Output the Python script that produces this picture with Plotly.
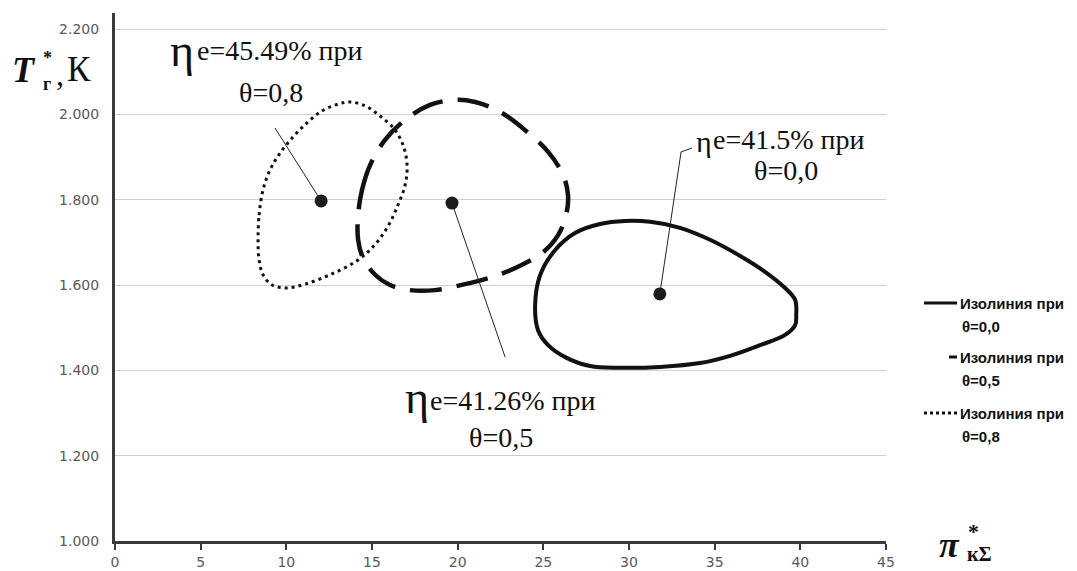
import plotly.graph_objects as go

# ---------------- data ----------------
# isoline theta = 0.0 (solid)
iso00_x = [24.52, 24.81, 25.69, 26.85, 28.31, 29.77, 31.23, 32.98, 34.73, 36.49, 37.94, 39.11, 39.70,
           39.76, 39.70, 39.11, 37.65, 35.90, 34.15, 31.82, 29.48, 27.73, 26.27, 25.28, 24.69, 24.52]
iso00_y = [1553, 1623, 1682, 1722, 1743, 1750, 1748, 1734, 1706, 1668, 1631, 1593, 1565,
           1530, 1506, 1483, 1459, 1434, 1417, 1408, 1406, 1410, 1431, 1459, 1494, 1553]
# isoline theta = 0.5 (dashed)
iso05_x = [14.19, 14.42, 14.89, 15.76, 16.93, 18.39, 19.85, 21.02, 22.47, 23.93, 25.28, 26.15, 26.44,
           26.33, 25.86, 24.99, 23.64, 22.18, 20.43, 18.68, 17.22, 16.05, 15.18, 14.48, 14.19, 14.19]
iso05_y = [1764, 1823, 1881, 1940, 1987, 2022, 2034, 2029, 2006, 1963, 1912, 1858, 1811,
           1764, 1717, 1677, 1645, 1621, 1602, 1588, 1588, 1600, 1624, 1663, 1706, 1764]
# isoline theta = 0.8 (dotted)
iso08_x = [8.35, 8.41, 8.64, 9.05, 9.63, 10.39, 11.21, 12.08, 13.02, 13.72, 14.59, 15.47, 16.35, 16.87,
           17.05, 16.93, 16.52, 15.88, 15.00, 14.01, 12.55, 11.09, 10.04, 9.17, 8.64, 8.41, 8.35]
iso08_y = [1706, 1764, 1823, 1870, 1909, 1947, 1980, 2008, 2024, 2029, 2020, 1996, 1963, 1921,
           1877, 1834, 1788, 1734, 1687, 1654, 1624, 1602, 1593, 1600, 1624, 1659, 1706]
# optimum points (theta = 0.0, 0.5, 0.8)
opt_x = [31.8, 19.67, 12.03]
opt_y = [1579, 1792, 1797]

x_ticks = [0, 5, 10, 15, 20, 25, 30, 35, 40, 45]
y_ticks = [1000, 1200, 1400, 1600, 1800, 2000, 2200]
y_ticktext = ["1.000", "1.200", "1.400", "1.600", "1.800", "2.000", "2.200"]
legend_line1 = ["Изолиния при", "Изолиния при", "Изолиния при"]
legend_line2 = ["θ=0,0", "θ=0,5", "θ=0,8"]

# ---------------- layout geometry ----------------
W, H = 1077, 571
L, R, T, B = 115, 191, 13, 30
PW, PH = W - L - R, H - T - B


def px(x):
    return (x - L) / PW


def py(y):
    return (H - B - y) / PH


fig = go.Figure()

fig.add_trace(go.Scatter(x=iso00_x, y=iso00_y, mode="lines", line=dict(color="#111111", width=4, shape="spline"),
                         showlegend=False, hoverinfo="skip"))
fig.add_trace(go.Scatter(x=iso05_x, y=iso05_y, mode="lines",
                         line=dict(color="#111111", width=4.5, shape="spline", dash="32px,15px"),
                         showlegend=False, hoverinfo="skip"))
fig.add_trace(go.Scatter(x=iso08_x, y=iso08_y, mode="lines",
                         line=dict(color="#111111", width=3, shape="spline", dash="3px,4px"),
                         showlegend=False, hoverinfo="skip"))

# leader lines from optimum points to labels
lead_end_x = [33.04, 22.77, 9.34]
lead_end_y = [1912, 1431, 1968]
for i in range(3):
    fig.add_shape(type="line", xref="x", yref="y", x0=opt_x[i], y0=opt_y[i], x1=lead_end_x[i], y1=lead_end_y[i],
                  line=dict(color="#222222", width=1))
fig.add_shape(type="line", xref="x", yref="y", x0=lead_end_x[0], y0=lead_end_y[0], x1=33.68, y1=1921,
              line=dict(color="#222222", width=1))

fig.add_trace(go.Scatter(x=opt_x, y=opt_y, mode="markers",
                         marker=dict(size=13, color="#1c1c1c", line=dict(width=0)),
                         showlegend=False, hoverinfo="skip"))

serif = "Liberation Serif, Times New Roman, serif"
ann = []


def text(t, x, y, size, xanchor="left", family=serif, color="#111111"):
    ann.append(dict(text=t, x=px(x), y=py(y), xref="paper", yref="paper", xanchor=xanchor, yanchor="middle",
                    showarrow=False, borderpad=0, font=dict(family=family, size=size, color=color)))


# label theta=0.8
text("η", 195, 50, 46, xanchor="right")
text("e=45.49% при", 196, 50, 28)
text("θ=0,8", 271, 93, 28, xanchor="center")
# label theta=0.5
text("η", 430, 397, 46, xanchor="right")
text("e=41.26% при", 429, 400, 28)
text("θ=0,5", 501, 437, 28, xanchor="center")
# label theta=0.0
text("η", 713, 141, 30, xanchor="right")
text("e=41.5% при", 712, 140, 28)
text("θ=0,0", 786, 170, 28, xanchor="center")

# y axis title  T*_г , К
text("<b><i>T</i></b>", 11, 70, 36)
text("<b>*</b>", 42, 58, 18)
text("<b>г</b>", 42, 84, 18)
text(",", 55, 74, 32)
text("К", 66, 70, 35)
# x axis title  π*_кΣ
text("<b><i>π</i></b>", 938, 545, 36)
text("<b>*</b>", 967, 531, 22)
text("<b>кΣ</b>", 966, 554, 20)

# manual legend
leg_y = [303, 357, 413]
leg_dash = ["solid", "solid", "3px,3px"]
leg_x0 = [924, 949, 924]
for i in range(3):
    fig.add_shape(type="line", xref="paper", yref="paper", x0=px(leg_x0[i]), x1=px(957),
                  y0=py(leg_y[i]), y1=py(leg_y[i]),
                  line=dict(color="#111111", width=3, dash=leg_dash[i]))
    text("<b>" + legend_line1[i] + "</b>", 959, leg_y[i], 15, family="Liberation Sans, Arial, sans-serif")
    text("<b>" + legend_line2[i] + "</b>", 961, leg_y[i] + 23, 15, family="Liberation Sans, Arial, sans-serif")

fig.update_layout(
    width=W, height=H,
    margin=dict(l=L, r=R, t=T, b=B, autoexpand=False),
    paper_bgcolor="white", plot_bgcolor="white",
    annotations=ann,
    showlegend=False,
    xaxis=dict(range=[0, 45], tickvals=x_ticks, showgrid=False, zeroline=False, automargin=False,
               showline=True, linecolor="#3a3a3a", linewidth=3,
               ticks="outside", ticklen=6, tickwidth=2, tickcolor="#3a3a3a",
               tickfont=dict(family="DejaVu Sans", size=14, color="#595959"), ticklabelstandoff=0),
    yaxis=dict(range=[1000, 2237.5], tickvals=y_ticks, ticktext=y_ticktext, automargin=False,
               showgrid=True, gridcolor="#cfcfcf", gridwidth=1.3, zeroline=False,
               showline=True, linecolor="#3a3a3a", linewidth=3, ticks="",
               tickfont=dict(family="DejaVu Sans", size=14, color="#595959"), ticklabelstandoff=10),
)

fig.write_html("out.html")
